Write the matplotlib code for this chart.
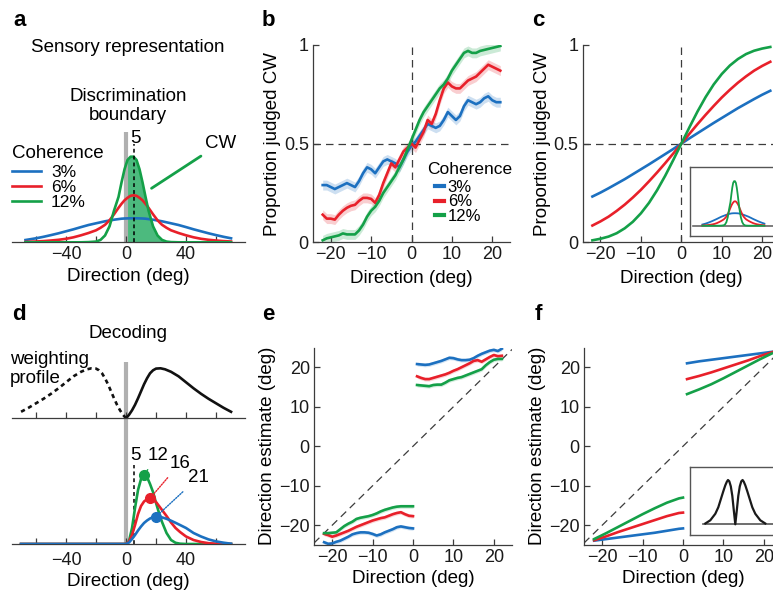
import numpy as np
import matplotlib
matplotlib.use("Agg")
import matplotlib.pyplot as plt

# ---------------- data ----------------
# panel a: sensory distributions (height in px above baseline)
a_x = np.array([-67, -60, -55, -50, -45, -40, -35, -30, -25, -20, -17, -14, -11, -8, -5, -3, -1,
                1, 3, 5, 7, 9, 11, 13, 15, 18, 21, 24, 27, 30, 35, 40, 45, 50, 55, 60, 65, 70])
a_blue = np.array([2.3, 4, 5.5, 7.2, 9, 11, 13, 15.2, 17.3, 19, 20, 21, 21.8, 22.6, 23.2, 23.6, 23.8,
                   23.9, 24, 24, 24, 23.9, 23.8, 23.6, 23.2, 22.6, 21.8, 21, 20, 19, 17.3, 15.2, 13, 11, 9, 7.2, 5.5, 4])
a_red = np.array([0.4, 0.8, 1.2, 1.8, 2.5, 3.5, 5, 7, 9.3, 12, 14.5, 17.5, 22, 28, 34.5, 38.5, 42,
                  44.5, 46.5, 47, 46.5, 44.5, 42, 38.5, 34.5, 28, 22, 17.5, 14.5, 12, 9.3, 7, 5, 3.5, 2.5, 1.8, 1.2, 0.8])
a_green = np.array([0, 0, 0, 0, 0, 0, 0, 0, 0.2, 0.7, 2.4, 6.8, 16, 31.7, 45.4, 59.9, 73,
                    82.3, 85.6, 85.6, 82.3, 73, 59.9, 45.4, 31.7, 16, 6.8, 2.4, 0.7, 0.2, 0, 0, 0, 0, 0, 0, 0, 0])

# panel b: measured psychometric data
b_x = np.arange(-22, 23)
b_blue = [0.29, 0.29, 0.28, 0.27, 0.28, 0.29, 0.30, 0.29, 0.28, 0.31, 0.35, 0.38, 0.37, 0.35, 0.38,
          0.41, 0.42, 0.41, 0.40, 0.38, 0.42, 0.46, 0.49, 0.51, 0.54, 0.57, 0.60, 0.59, 0.58, 0.59,
          0.62, 0.66, 0.64, 0.62, 0.64, 0.69, 0.72, 0.71, 0.70, 0.71, 0.73, 0.74, 0.72, 0.71, 0.71]
b_red = [0.14, 0.12, 0.12, 0.115, 0.14, 0.16, 0.175, 0.185, 0.19, 0.21, 0.225, 0.225, 0.22, 0.20,
         0.24, 0.30, 0.35, 0.40, 0.38, 0.42, 0.46, 0.48, 0.50, 0.48, 0.52, 0.56, 0.62, 0.60, 0.65,
         0.72, 0.78, 0.81, 0.79, 0.78, 0.78, 0.80, 0.82, 0.83, 0.84, 0.86, 0.88, 0.90, 0.89, 0.88, 0.87]
b_green = [0.01, 0.02, 0.025, 0.03, 0.035, 0.045, 0.04, 0.04, 0.04, 0.06, 0.09, 0.13, 0.16, 0.18,
           0.21, 0.25, 0.28, 0.31, 0.34, 0.38, 0.42, 0.47, 0.52, 0.57, 0.62, 0.66, 0.69, 0.72, 0.75,
           0.78, 0.80, 0.83, 0.87, 0.90, 0.93, 0.96, 0.97, 0.96, 0.96, 0.97, 0.975, 0.98, 0.985, 0.99, 0.995]

# panel c: model psychometric curves
c_x = [-22, -20, -18, -16, -14, -12, -10, -8, -6, -4, -2, 0, 2, 4, 6, 8, 10, 12, 14, 16, 18, 20, 22]
c_blue = [0.232, 0.252, 0.274, 0.297, 0.320, 0.345, 0.370, 0.395, 0.421, 0.447, 0.473, 0.5,
          0.527, 0.553, 0.579, 0.605, 0.630, 0.655, 0.680, 0.703, 0.726, 0.748, 0.768]
c_red = [0.085, 0.106, 0.130, 0.159, 0.191, 0.227, 0.266, 0.309, 0.354, 0.401, 0.450, 0.5,
         0.550, 0.599, 0.646, 0.691, 0.734, 0.773, 0.809, 0.841, 0.870, 0.894, 0.915]
c_green = [0.010, 0.018, 0.029, 0.046, 0.071, 0.104, 0.147, 0.200, 0.264, 0.337, 0.417, 0.5,
           0.583, 0.663, 0.736, 0.800, 0.853, 0.896, 0.929, 0.954, 0.971, 0.982, 0.990]

# panel d: weighting profile and decoded likelihoods
w_x = [0, 2, 4, 6, 8, 10, 12, 14, 16, 18, 20, 23, 26, 30, 35, 40, 45, 50, 55, 60, 65, 70]
w_y = [0, 3.5, 8, 13.5, 20, 27, 34, 40, 45, 48, 49.7, 50, 49, 46.5, 42, 36, 30, 24.5, 19.5, 15, 10.5, 6.5]
wn_x = [0, -2, -4, -6, -8, -10, -12, -14, -16, -18, -20, -23, -26, -30, -35, -40, -45, -50, -55, -60, -65, -70]
wn_y = [0, 3.5, 8, 13.5, 20, 27, 34, 40, 45, 48, 49.7, 50, 49, 46.5, 42, 36, 30, 24.5, 19.5, 15, 10.5, 6.5]

d_x = [-70, 0, 2, 4, 6, 8, 10, 12, 14, 16, 18, 20, 22, 24, 27, 30, 33, 36, 40, 45, 50, 55, 60, 65, 70]
d_green = [0, 0, 3, 16, 36, 54, 65, 69, 67, 60, 52, 41, 31, 22, 11, 4, 1.2, 0.3, 0, 0, 0, 0, 0, 0, 0]
d_red = [0, 0, 2.5, 9, 19, 30, 38, 42.5, 44.8, 45.7, 44.5, 42, 38, 34, 28, 21.5, 16, 12, 7.5, 4, 2, 0.8, 0.3, 0.1, 0]
d_blue = [0, 0, 1.5, 5, 9, 13.5, 17.5, 21, 23.5, 25.5, 26.8, 27.3, 27.2, 26.6, 25.2, 23.3, 21.2, 19,
          16, 11, 7.5, 4.6, 2.6, 1.3, 0.3]
d_labels = ["12", "16", "21"]

# panel e: measured direction estimates
e_up_x = np.arange(1, 23)
e_up_blue = [20.8, 20.7, 20.6, 20.7, 21.0, 21.3, 21.6, 22.0, 22.4, 22.3, 22.0, 21.8, 21.8, 21.9, 22.3,
             22.9, 23.4, 23.8, 24.2, 24.4, 24.1, 24.7]
e_up_red = [17.7, 17.3, 17.0, 17.0, 17.3, 17.6, 17.9, 18.2, 18.6, 19.1, 19.5, 20.0, 20.5, 21.0, 21.6,
            21.8, 21.4, 22.0, 22.6, 23.1, 22.8, 22.9]
e_up_green = [15.5, 15.4, 15.3, 15.2, 15.5, 15.6, 15.6, 16.1, 16.7, 17.0, 17.3, 17.5, 17.9, 18.3, 18.7,
              19.1, 19.5, 20.5, 21.3, 21.9, 22.1, 22.1]
e_lo_x = np.arange(-22, 1)
e_lo_blue = [-24.3, -24.7, -24.6, -24.2, -23.9, -23.4, -22.9, -22.3, -22.0, -21.8, -21.8, -21.9, -22.2,
             -22.6, -22.3, -21.8, -21.4, -21.0, -20.5, -20.3, -20.5, -20.7, -20.8]
e_lo_red = [-22.2, -22.5, -22.9, -22.6, -22.2, -21.8, -21.4, -20.9, -20.4, -20.0, -19.6, -19.2, -18.8,
            -18.5, -18.2, -18.0, -17.6, -17.2, -16.9, -16.7, -17.2, -17.6, -17.7]
e_lo_green = [-22.0, -22.0, -21.9, -21.8, -21.0, -20.2, -19.6, -19.1, -18.4, -18.1, -17.9, -17.7, -17.4,
              -17.0, -16.5, -16.1, -15.8, -15.5, -15.3, -15.2, -15.2, -15.2, -15.2]

# panel f: model direction estimates
f_up_x = [1, 4, 7, 10, 13, 16, 19, 22]
f_up_blue = [21.0, 21.5, 21.9, 22.3, 22.7, 23.1, 23.5, 23.9]
f_up_red = [17.0, 17.8, 18.7, 19.7, 20.7, 21.7, 22.8, 23.8]
f_up_green = [13.2, 14.4, 15.7, 17.2, 18.8, 20.4, 22.0, 23.5]
f_lo_x = [-22, -19, -16, -13, -10, -7, -4, -1, 0]
f_lo_blue = [-23.9, -23.5, -23.1, -22.7, -22.3, -21.9, -21.4, -20.9, -20.8]
f_lo_red = [-23.8, -22.8, -21.7, -20.7, -19.7, -18.7, -17.7, -16.9, -16.8]
f_lo_green = [-23.5, -22.0, -20.4, -18.8, -17.2, -15.7, -14.3, -13.2, -13.0]

# inset f: bimodal weighting
fi_x = [-30, -25, -20, -17, -14.5, -12, -10, -8.5, -7.3, -6, -4.5, -3, -1.5, 0,
        1.5, 3, 4.5, 6, 7.3, 8.5, 10, 12, 14.5, 17, 20, 25, 30]
fi_y = [0.8, 4, 10.5, 17, 25, 33, 39, 42.5, 44.3, 43, 38, 28.5, 14, 0,
        14, 28.5, 38, 43, 44.3, 42.5, 39, 33, 25, 17, 10.5, 4, 0.8]

coh_labels = ["3%", "6%", "12%"]

# ---------------- style ----------------
BLUE = "#1c70c0"
RED = "#e8202a"
GREEN = "#14a048"
FILL = "#4cba7e"
BAR = "#b0b0b0"
AXC = "#3c3c3c"

plt.rcParams["font.family"] = ["Liberation Sans", "DejaVu Sans"]
plt.rcParams["font.size"] = 13.5
plt.rcParams["xtick.labelsize"] = 13
plt.rcParams["ytick.labelsize"] = 13
plt.rcParams["axes.edgecolor"] = AXC
plt.rcParams["axes.linewidth"] = 0.9
plt.rcParams["xtick.color"] = AXC
plt.rcParams["ytick.color"] = AXC
plt.rcParams["xtick.labelcolor"] = "#1a1a1a"
plt.rcParams["ytick.labelcolor"] = "#1a1a1a"

W, H = 773, 591
fig = plt.figure(figsize=(W / 100, H / 100), dpi=100)

LW = 1.9
DASH = dict(color=AXC, lw=0.9, dashes=(6, 4))


def px_axes(l, t, r, b):
    return fig.add_axes([l / W, 1 - b / H, (r - l) / W, (b - t) / H])


def ftext(x, y, s, **kw):
    fig.text(x / W, 1 - y / H, s, **kw)


def style(ax, left=True):
    for s in ["top", "right"]:
        ax.spines[s].set_visible(False)
    if not left:
        ax.spines["left"].set_visible(False)
        ax.set_yticks([])
    ax.tick_params(direction="in", length=4, width=0.9, pad=3)


# ---------------- panel a ----------------
axa = px_axes(12, 132, 245, 242.3)
style(axa, left=False)
axa.set_xlim(-76, 79.3)
axa.set_ylim(0, 110.3)
axa.set_xticks([-60, -40, -20, 0, 20, 40, 60])
axa.set_xticklabels(["", "\u221240", "", "0", "", "40", ""])
axa.set_xlabel("Direction (deg)", labelpad=3)
axa.axvline(0, color=BAR, lw=3, zorder=1)
axa.fill_between(a_x, a_green, where=a_x >= 0, color=FILL, lw=0, zorder=2)
axa.axvline(5, ymax=98 / 110.3, color="k", lw=1.1, dashes=(2.5, 2), zorder=5)
la, = axa.plot(a_x, a_blue, color=BLUE, lw=LW, zorder=3)
lr, = axa.plot(a_x, a_red, color=RED, lw=LW, zorder=3)
lg, = axa.plot(a_x, a_green, color=GREEN, lw=LW, zorder=4)
axa.text(6.5, 104, "5", ha="center", va="center")
axa.annotate("CW", xy=(17, 54), xytext=(63, 99), ha="center", va="center",
             arrowprops=dict(arrowstyle="-", color=GREEN, lw=2, shrinkA=2, shrinkB=0))
axa.legend([la, lr, lg], coh_labels, loc="upper left", bbox_to_anchor=(0, 0.70),
           frameon=False, handlelength=1.65, handletextpad=0.6, labelspacing=-0.02,
           borderpad=0, borderaxespad=0, fontsize=12.5)
ftext(12, 153, "Coherence", ha="left", va="center")
ftext(128, 106, "Discrimination\nboundary", ha="center", va="center", linespacing=1.2)
ftext(128, 48, "Sensory representation", ha="center", va="center")

# ---------------- panel b ----------------
axb = px_axes(313, 45, 510, 242.3)
style(axb)
axb.set_xlim(-24.4, 24.4)
axb.set_ylim(0, 1)
axb.set_xticks([-20, -10, 0, 10, 20])
axb.set_yticks([0, 0.5, 1])
axb.set_yticklabels(["0", "0.5", "1"])
axb.axhline(0.5, **DASH)
axb.axvline(0, **DASH)
hb = []
for y, c in [(b_blue, BLUE), (b_red, RED), (b_green, GREEN)]:
    y = np.array(y)
    axb.fill_between(b_x, y - 0.025, y + 0.025, color=c, alpha=0.22, lw=0)
    h, = axb.plot(b_x, y, color=c, lw=LW)
    hb.append(h)
axb.set_xlabel("Direction (deg)", labelpad=5)
axb.set_ylabel("Proportion judged CW", labelpad=2)
legb = axb.legend(hb, coh_labels, loc="upper left", bbox_to_anchor=(0.62, 0.315), frameon=False,
                  handlelength=0.55, handletextpad=0.2, labelspacing=-0.04, borderpad=0,
                  borderaxespad=0, fontsize=12)
for l in legb.get_lines():
    l.set_linewidth(3)
ftext(427, 170, "Coherence", ha="left", va="center", fontsize=12.5)

# ---------------- panel c ----------------
axc = px_axes(582.7, 45, 780, 242.3)
style(axc)
axc.set_xlim(-24.4, 24.4)
axc.set_ylim(0, 1)
axc.set_xticks([-20, -10, 0, 10, 20])
axc.set_yticks([0, 0.5, 1])
axc.set_yticklabels(["0", "0.5", "1"])
axc.axhline(0.5, **DASH)
axc.axvline(0, **DASH)
for y, c in [(c_blue, BLUE), (c_red, RED), (c_green, GREEN)]:
    axc.plot(c_x, y, color=c, lw=LW)
axc.set_xlabel("Direction (deg)", labelpad=5)
axc.set_ylabel("Proportion judged CW", labelpad=2)

# inset c
axci = px_axes(690, 167.3, 800, 236)
axci.set_xlim(-94.4, 148.7)
axci.set_ylim(-19.8, 112.3)
axci.set_xticks([])
axci.set_yticks([])
for s in axci.spines.values():
    s.set_color("#555555")
    s.set_linewidth(1)
axci.axhline(0, xmin=3 / 110, color="#666666", lw=1.2)
for y, c in [(a_blue, BLUE), (a_red, RED), (a_green, GREEN)]:
    axci.plot(a_x, y, color=c, lw=1.3)

# ---------------- panel d ----------------
axd = px_axes(12, 362, 245, 544)
style(axd, left=False)
axd.set_xlim(-76, 79.3)
axd.set_ylim(0, 182)
axd.set_xticks([-60, -40, -20, 0, 20, 40, 60])
axd.set_xticklabels(["", "\u221240", "", "0", "", "40", ""])
axd.tick_params(axis="x", pad=6)
axd.set_xlabel("Direction (deg)", labelpad=3)
axd.axvline(0, color=BAR, lw=3, zorder=1)
axd.axvline(5, ymax=79 / 182, color="k", lw=1.1, dashes=(2.5, 2), zorder=2)
axd.text(6.5, 88, "5", ha="center", va="center")
offs = [(14, 20), (30, 35), (42, 39)]
for y, c in zip([d_green, d_red, d_blue], [GREEN, RED, BLUE]):
    axd.plot(d_x, y, color=c, lw=LW, zorder=3)
for y, c, lab, off in zip([d_green, d_red, d_blue], [GREEN, RED, BLUE], d_labels, offs):
    i = int(np.argmax(y))
    axd.plot(d_x[i], y[i], "o", color=c, ms=7, zorder=6)
    axd.annotate(lab, xy=(d_x[i], y[i]), xytext=off, textcoords="offset pixels",
                 ha="center", va="center",
                 arrowprops=dict(arrowstyle="-", color=c, lw=1, linestyle=(0, (1, 1)),
                                 shrinkA=3, shrinkB=2))

axw = px_axes(12, 362, 245, 418.3)
axw.patch.set_visible(False)
style(axw, left=False)
axw.set_xlim(-76, 79.3)
axw.set_ylim(0, 56.3)
axw.set_xticks([-60, -40, -20, 0, 20, 40, 60])
axw.set_xticklabels([])
axw.plot(w_x, w_y, color="#111111", lw=LW)
axw.plot(wn_x, wn_y, color="#111111", lw=LW, dashes=(1.6, 1.4))
ftext(128, 333, "Decoding", ha="center", va="center")
ftext(10, 369, "weighting\nprofile", ha="left", va="center", linespacing=1.15)

# ---------------- panel e ----------------
axe = px_axes(314, 347.5, 512, 545)
style(axe)
axe.set_xlim(-24.5, 24.5)
axe.set_ylim(-25, 25)
axe.set_xticks([-20, -10, 0, 10, 20])
axe.set_yticks([-20, -10, 0, 10, 20])
axe.axline((0, 0), slope=1, **DASH)
for xs, ys in [(e_up_x, [e_up_blue, e_up_red, e_up_green]), (e_lo_x, [e_lo_blue, e_lo_red, e_lo_green])]:
    for y, c in zip(ys, [BLUE, RED, GREEN]):
        y = np.array(y)
        axe.fill_between(xs, y - 0.5, y + 0.5, color=c, alpha=0.18, lw=0)
        axe.plot(xs, y, color=c, lw=LW)
axe.set_xlabel("Direction (deg)", labelpad=3)
axe.set_ylabel("Direction estimate (deg)", labelpad=2)

# ---------------- panel f ----------------
axf = px_axes(584, 347.5, 782, 545)
style(axf)
axf.set_xlim(-24.5, 24.5)
axf.set_ylim(-25, 25)
axf.set_xticks([-20, -10, 0, 10, 20])
axf.set_yticks([-20, -10, 0, 10, 20])
axf.axline((0, 0), slope=1, **DASH)
for xs, ys in [(f_up_x, [f_up_blue, f_up_red, f_up_green]), (f_lo_x, [f_lo_blue, f_lo_red, f_lo_green])]:
    for y, c in zip(ys, [BLUE, RED, GREEN]):
        axf.plot(xs, y, color=c, lw=LW)
axf.set_xlabel("Direction (deg)", labelpad=3)
axf.set_ylabel("Direction estimate (deg)", labelpad=2)

axfi = px_axes(690, 466.7, 800, 535)
axfi.set_xlim(-45.3, 64.7)
axfi.set_ylim(-10.7, 57.6)
axfi.set_xticks([])
axfi.set_yticks([])
for s in axfi.spines.values():
    s.set_color("#555555")
    s.set_linewidth(1)
axfi.axhline(0, xmin=13 / 110, color="#555555", lw=1.2)
axfi.plot(fi_x, fi_y, color="#1a1a1a", lw=1.6)

# panel letters
for lab, x, y in [("a", 20, 20), ("b", 268, 20), ("c", 538, 20),
                  ("d", 19, 315), ("e", 268, 315), ("f", 538, 315)]:
    ftext(x, y, lab, ha="center", va="center", fontsize=16, fontweight="bold")

fig.savefig("out.png", dpi=100)
